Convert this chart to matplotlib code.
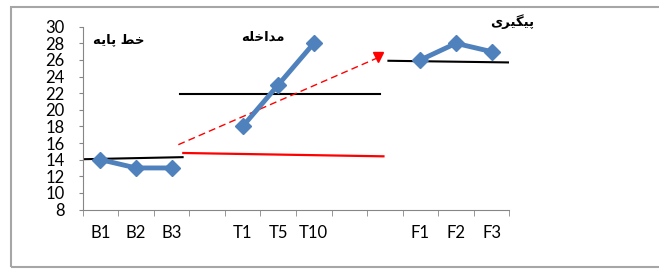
import matplotlib
matplotlib.use("Agg")
import matplotlib.pyplot as plt
from matplotlib.patches import Rectangle

plt.rcParams['font.family'] = ['Lato', 'DejaVu Sans']

# categories (empty slots are gaps between phases)
categories = ["B1", "B2", "B3", "", "T1", "T5", "T10", "", "", "F1", "F2", "F3"]
baseline_idx = [0, 1, 2]
baseline_vals = [14, 13, 13]
treat_idx = [4, 5, 6]
treat_vals = [18, 23, 28]
follow_idx = [9, 10, 11]
follow_vals = [26, 28, 27]

# phase level lines: (x start, x end), (y start, y end)
level_base_x = [-0.5, 2.31]
level_base_y = [14.05, 14.3]
level_treat_x = [2.24, 7.87]
level_treat_y = [21.95, 21.95]
level_follow_x = [8.1, 11.47]
level_follow_y = [25.9, 25.7]
red_solid_x = [2.33, 7.96]
red_solid_y = [14.8, 14.4]
red_dash_x = [2.19, 7.82]
red_dash_y = [15.8, 26.3]

# phase titles, Persian (shaped presentation forms in visual order)
title_base = "\uFEEA\uFBFE\uFE8E\uFB58 \uFEC2\uFEA7"      # خط پایه
title_treat = "\uFEEA\uFEE0\uFEA7\uFE8D\uFEAA\uFEE3"      # مداخله
title_follow = "\uFBFC\uFEAE\uFBFF\uFB95\uFBFF\uFB58"     # پیگیری

blue = "#4F81BD"
grey = "#868686"

fig = plt.figure(figsize=(6.59, 2.69), dpi=100)
fig.patches.append(Rectangle((11 / 659, 2 / 269), 1.0, 260 / 269, transform=fig.transFigure,
                             fill=False, edgecolor="#A6A6A6", linewidth=1.5))
ax = fig.add_axes([82.7 / 659, (269 - 209.5) / 269, (509.3 - 82.7) / 659, (209.5 - 26.7) / 269])

ax.plot(level_base_x, level_base_y, color="black", lw=1.5)
ax.plot(level_treat_x, level_treat_y, color="black", lw=1.5)
ax.plot(level_follow_x, level_follow_y, color="black", lw=1.5)
ax.plot(red_solid_x, red_solid_y, color="#FF0000", lw=1.6)
ax.plot(red_dash_x, red_dash_y, color="#FF0000", lw=1.0, ls=(0, (5, 3)))
ax.plot(red_dash_x[-1], red_dash_y[-1], marker="v", color="#FF0000", ms=7)

for xs, ys in [(baseline_idx, baseline_vals), (treat_idx, treat_vals), (follow_idx, follow_vals)]:
    ax.plot(xs, ys, color=blue, lw=3.5, marker="D", ms=8, zorder=5)

ax.set_xlim(-0.5, len(categories) - 0.5)
ax.set_ylim(8, 30)
ax.set_yticks(range(8, 31, 2))
ax.set_xticks(range(len(categories)))
ax.set_xticklabels(categories)
ax.set_xticks([i - 0.5 for i in range(len(categories) + 1)], minor=True)
ax.tick_params(axis="x", which="major", length=0, pad=11, labelsize=12)
ax.tick_params(axis="x", which="minor", length=4, color=grey, direction="out")
ax.tick_params(axis="y", length=3, color=grey, labelsize=12, pad=10)

for s in ["top", "right"]:
    ax.spines[s].set_visible(False)
ax.spines["left"].set_color(grey)
ax.spines["bottom"].set_color(grey)

title_font = dict(family=["DejaVu Sans"], fontweight="bold", fontsize=9.5, ha="center", va="center")
ax.text(0.5, 28.4, title_base, **title_font)
ax.text(4.58, 28.75, title_treat, **title_font)
ax.text(11.57, 30.6, title_follow, clip_on=False, **title_font)

fig.savefig("out.png", dpi=100)
